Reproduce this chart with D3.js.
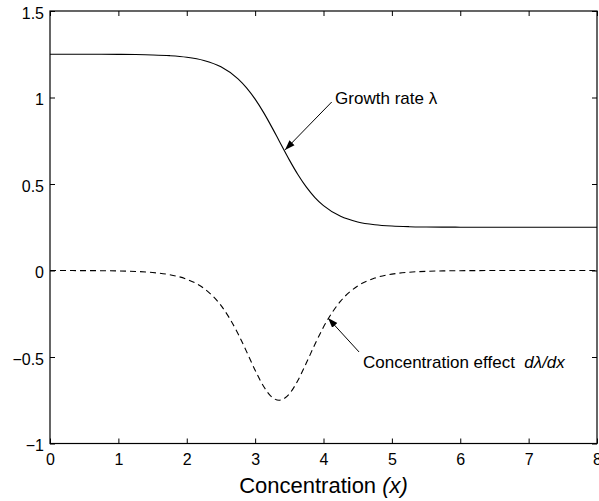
<!DOCTYPE html>
<html>
<head>
<meta charset="utf-8">
<script src="https://cdn.jsdelivr.net/npm/d3@7"></script>
<style>
  html, body { margin: 0; padding: 0; background: #fff; }
  svg { display: block; }
  text { font-family: "Liberation Sans", Arial, Helvetica, sans-serif; fill: #000; }
</style>
</head>
<body>
<svg id="chart" width="599" height="501"></svg>
<script>
// ---- data ----
const xTicks = [0, 1, 2, 3, 4, 5, 6, 7, 8];
const xTickLabels = ["0", "1", "2", "3", "4", "5", "6", "7", "8"];
const yTicks = [1.5, 1, 0.5, 0, -0.5, -1];
const yTickLabels = ["1.5", "1", "0.5", "0", "\u22120.5", "\u22121"];

const xValues = [0, 0.25, 0.5, 0.75, 1, 1.25, 1.5, 1.75, 2, 2.25, 2.5, 2.75, 2.875, 3, 3.125, 3.25, 3.35,
  3.5, 3.625, 3.75, 3.875, 4, 4.25, 4.5, 4.75, 5, 5.25, 5.5, 5.75, 6, 6.25, 6.5, 6.75, 7, 7.25, 7.5, 7.75, 8];
const growthRate = [1.25, 1.2499, 1.2498, 1.2496, 1.2491, 1.2482, 1.2461, 1.2418, 1.2329, 1.2144, 1.1776, 1.1081, 1.0561, 0.9908, 0.9126, 0.8244, 0.75,
  0.6394, 0.5547, 0.4815, 0.4215, 0.3746, 0.3130, 0.2808, 0.2648, 0.2570, 0.2533, 0.2516, 0.2507, 0.2504, 0.2502, 0.2501, 0.25, 0.25, 0.25, 0.25, 0.25, 0.25];
const concEffect = [0, -0.0003, -0.0006, -0.0012, -0.0026, -0.0055, -0.0116, -0.0243, -0.0505, -0.1029, -0.2015, -0.3652, -0.4689, -0.5761, -0.6707, -0.7334, -0.75,
  -0.7133, -0.6356, -0.5337, -0.4263, -0.3271, -0.1770, -0.0895, -0.0437, -0.0210, -0.0100, -0.0047, -0.0022, -0.0011, -0.0005, -0.0002, -0.0001, 0, 0, 0, 0, 0];

const annotations = [
  { text: ["Growth rate \u03BB"], italic: [false], tx: 4.17, ty: 0.962, from: [4.12, 0.974], to: [3.437, 0.697] },
  { text: ["Concentration effect  ", "d\u03BB/dx"], italic: [false, true], tx: 4.578, ty: -0.564, from: [4.52, -0.471], to: [4.066, -0.275] }
];
const xLabel = ["Concentration ", "(x)"];

// ---- layout ----
const svg = d3.select("#chart");
const mLeft = 50, mRight = 597, mTop = 11, mBottom = 443.5;
const x = d3.scaleLinear().domain([0, 8]).range([mLeft, mRight]);
const y = d3.scaleLinear().domain([-1, 1.5]).range([mBottom, mTop]);

const tickLen = 5;
const g = svg.append("g");

// axes with inward ticks (MATLAB style), mirrored on top/right
const axB = d3.axisBottom(x).tickValues(xTicks).tickSizeInner(-tickLen).tickSizeOuter(0)
  .tickFormat((d, i) => xTickLabels[i]).tickPadding(10);
const axT = d3.axisTop(x).tickValues(xTicks).tickSizeInner(-tickLen).tickSizeOuter(0).tickFormat("");
const axL = d3.axisLeft(y).tickValues(yTicks).tickSizeInner(-tickLen).tickSizeOuter(0)
  .tickFormat((d, i) => yTickLabels[i]).tickPadding(6);
const axR = d3.axisRight(y).tickValues(yTicks).tickSizeInner(-tickLen).tickSizeOuter(0).tickFormat("");

function style(sel) {
  sel.select(".domain").remove();
  sel.selectAll("line").attr("stroke", "#000").attr("stroke-width", 1);
  sel.selectAll("text").style("font-size", "16px").attr("fill", "#000");
}
g.append("g").attr("transform", `translate(0,${mBottom})`).call(axB).call(style)
  .selectAll("text").attr("dy", "0.71em");
g.append("g").attr("transform", `translate(0,${mTop})`).call(axT).call(style);
g.append("g").attr("transform", `translate(${mLeft},0)`).call(axL).call(style)
  .selectAll("text").attr("dy", "0.45em");
g.append("g").attr("transform", `translate(${mRight},0)`).call(axR).call(style);

// box
g.append("rect").attr("x", mLeft).attr("y", mTop).attr("width", mRight - mLeft).attr("height", mBottom - mTop)
  .attr("fill", "none").attr("stroke", "#000").attr("stroke-width", 1.2);

// curves
const pts1 = xValues.map((v, i) => [v, growthRate[i]]);
const pts2 = xValues.map((v, i) => [v, concEffect[i]]);
const line = d3.line().x(d => x(d[0])).y(d => y(d[1])).curve(d3.curveMonotoneX);
g.append("path").attr("d", line(pts1)).attr("fill", "none").attr("stroke", "#000").attr("stroke-width", 1.1);
g.append("path").attr("d", line(pts2)).attr("fill", "none").attr("stroke", "#000").attr("stroke-width", 1.1)
  .attr("stroke-dasharray", "6,4");

// arrow marker
svg.append("defs").append("marker").attr("id", "ah")
  .attr("markerUnits", "userSpaceOnUse").attr("viewBox", "-10 -5 10 10")
  .attr("refX", 0).attr("refY", 0).attr("markerWidth", 10).attr("markerHeight", 10)
  .attr("orient", "auto")
  .append("path").attr("d", "M0,0 L-10,-3.5 L-10,3.5 Z").attr("fill", "#000");

annotations.forEach(a => {
  g.append("line").attr("x1", x(a.from[0])).attr("y1", y(a.from[1]))
    .attr("x2", x(a.to[0])).attr("y2", y(a.to[1]))
    .attr("stroke", "#000").attr("stroke-width", 1).attr("marker-end", "url(#ah)");
  const t = g.append("text").attr("x", x(a.tx)).attr("y", y(a.ty)).style("font-size", "17px")
    .style("white-space", "pre");
  a.text.forEach((s, i) => t.append("tspan").text(s).style("font-style", a.italic[i] ? "italic" : "normal"));
});

// x axis label
const xl = g.append("text").attr("x", (mLeft + mRight) / 2).attr("y", 493).attr("text-anchor", "middle")
  .style("font-size", "22px").style("white-space", "pre");
xl.append("tspan").text(xLabel[0]);
xl.append("tspan").text(xLabel[1]).style("font-style", "italic");
</script>
</body>
</html>
